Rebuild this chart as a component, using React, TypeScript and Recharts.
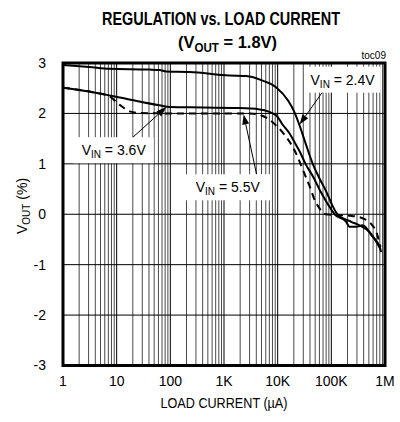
import React from 'react';
import {
  LineChart,
  Line,
  XAxis,
  YAxis,
  CartesianGrid,
  ReferenceLine,
  ReferenceDot,
  ReferenceArea,
} from 'recharts';

// ---- axis ticks ----
const X_TICKS = [1, 10, 100, 1000, 10000, 100000, 1000000];
const X_TICK_LABELS = ['1', '10', '100', '1K', '10K', '100K', '1M'];
const Y_TICKS = [-3, -2, -1, 0, 1, 2, 3];
const DECADES = [1, 10, 100, 1000, 10000, 100000];
const MINOR_STEPS = [2, 3, 4, 5, 6, 7, 8, 9];

// ---- series: VIN = 2.4V ----
const CURRENT_24 = [1, 3.1, 7.4, 41, 63, 84, 229, 1260, 2600, 5250, 9330, 15960, 20600, 25600, 33000, 44700, 60300, 81400, 105000, 130000, 235000, 335000, 513000, 824000];
const VOUT_24 = [2.96, 2.92, 2.885, 2.87, 2.86, 2.83, 2.82, 2.75, 2.74, 2.65, 2.52, 2.24, 2.02, 1.76, 1.41, 1.01, 0.71, 0.44, 0.17, 0.0, -0.15, -0.22, -0.35, -0.69];

// ---- series: VIN = 3.6V ----
const CURRENT_36 = [1, 3.6, 15, 63, 97, 229, 1930, 4600, 9400, 12300, 16700, 20600, 25600, 33000, 46600, 63000, 85000, 115000, 189000, 218000, 291000, 382000, 562000, 794000, 850000];
const VOUT_36 = [2.51, 2.42, 2.29, 2.16, 2.125, 2.12, 2.105, 2.08, 1.96, 1.78, 1.6, 1.43, 1.25, 1.0, 0.73, 0.45, 0.21, 0.0, -0.15, -0.25, -0.25, -0.22, -0.42, -0.65, -0.75];

// ---- series: VIN = 5.5V (dashed) ----
const CURRENT_55 = [1, 3.6, 7, 11.4, 17.5, 27, 100, 3000, 4600, 6460, 10000, 14500, 20600, 25700, 32000, 40000, 49000, 60000, 78000, 228000, 381000, 561000, 695000, 824000];
const VOUT_55 = [2.51, 2.42, 2.35, 2.17, 2.04, 2.01, 2.0, 2.0, 1.97, 1.9, 1.73, 1.53, 1.27, 1.04, 0.79, 0.54, 0.28, 0.12, 0.0, -0.03, -0.08, -0.2, -0.36, -0.65];

// ---- annotations (data units) ----
const LABEL_TEXT = ['2.4V', '3.6V', '5.5V'];
const LABEL_X = [162000, 8.8, 1175];
const LABEL_Y = [2.67, 1.27, 0.535];
const LABEL_W = [76, 80, 86];
const ARROW_FROM_X = [78000, 18.8, 4050];
const ARROW_FROM_Y = [2.51, 1.5, 0.79];
const ARROW_TO_X = [25600, 84, 2320];
const ARROW_TO_Y = [1.78, 2.125, 1.98];

const toRows = (xs: number[], ys: number[]) => xs.map((x, i) => ({ x, y: ys[i] }));
const DATA_24 = toRows(CURRENT_24, VOUT_24);
const DATA_36 = toRows(CURRENT_36, VOUT_36);
const DATA_55 = toRows(CURRENT_55, VOUT_55);

const MINOR_GRID: number[] = [];
DECADES.forEach((d) => MINOR_STEPS.forEach((m) => MINOR_GRID.push(d * m)));

const FONT = "'Liberation Sans', Arial, sans-serif";

const makeLabelShape = (text: string, w: number) => (props: any) => {
  const { cx, cy } = props;
  const h = 26;
  return (
    <g>
      <rect x={cx - w / 2} y={cy - h / 2} width={w} height={h} fill="#fff" />
      <text x={cx} y={cy + 5} textAnchor="middle" fontSize={14} fontFamily={FONT} fill="#000">
        V<tspan fontSize={10} dy={3}>IN</tspan>
        <tspan dy={-3}>{' = ' + text}</tspan>
      </text>
    </g>
  );
};

const arrowShape = (props: any) => {
  const { x1, y1, x2, y2 } = props;
  const a = Math.atan2(y2 - y1, x2 - x1);
  const L = 10;
  const W = 3.5;
  const bx = x2 - L * Math.cos(a);
  const by = y2 - L * Math.sin(a);
  const px = -Math.sin(a) * W;
  const py = Math.cos(a) * W;
  return (
    <g>
      <line x1={x1} y1={y1} x2={bx} y2={by} stroke="#000" strokeWidth={1} />
      <polygon points={`${x2},${y2} ${bx + px},${by + py} ${bx - px},${by - py}`} fill="#000" />
    </g>
  );
};

const xFmt = (v: number) => {
  const i = X_TICKS.indexOf(v);
  return i >= 0 ? X_TICK_LABELS[i] : '';
};

export default function App() {
  return (
    <div style={{ position: 'absolute', left: 0, top: 0, width: 400, height: 422, background: '#fff' }}>
      <LineChart
        width={400}
        height={422}
        margin={{ top: 63, right: 15, bottom: 26.5, left: 33 }}
      >
        <CartesianGrid
          horizontal={false}
          vertical={true}
          verticalValues={MINOR_GRID}
          stroke="#4a4a4a"
          strokeWidth={1}
        />
        <CartesianGrid
          horizontal={true}
          vertical={true}
          verticalValues={X_TICKS}
          horizontalValues={Y_TICKS}
          stroke="#000"
          strokeWidth={1}
        />
        <XAxis
          dataKey="x"
          type="number"
          scale="log"
          domain={[1, 1000000]}
          ticks={X_TICKS}
          tickFormatter={xFmt}
          allowDataOverflow
          axisLine={false}
          tickLine={false}
          tickSize={0}
          tickMargin={11}
          height={30}
          interval={0}
          tick={{ fontSize: 14, fill: '#000', fontFamily: FONT }}
        />
        <YAxis
          type="number"
          domain={[-3, 3]}
          ticks={Y_TICKS}
          allowDataOverflow
          axisLine={false}
          tickLine={false}
          tickSize={0}
          tickMargin={17}
          width={30}
          interval={0}
          tick={{ fontSize: 14, fill: '#000', fontFamily: FONT }}
        />
        <Line data={DATA_24} dataKey="y" type="monotone" stroke="#000" strokeWidth={2} dot={false} isAnimationActive={false} />
        <Line data={DATA_36} dataKey="y" type="monotone" stroke="#000" strokeWidth={2} dot={false} isAnimationActive={false} />
        <Line data={DATA_55} dataKey="y" type="monotone" stroke="#000" strokeWidth={2} strokeDasharray="7 5" dot={false} isAnimationActive={false} />
        {LABEL_TEXT.map((t, i) => (
          <ReferenceDot key={'lb' + i} x={LABEL_X[i]} y={LABEL_Y[i]} r={1} shape={makeLabelShape(t, LABEL_W[i])} />
        ))}
        {LABEL_TEXT.map((t, i) => (
          <ReferenceLine
            key={'ar' + i}
            segment={[
              { x: ARROW_FROM_X[i], y: ARROW_FROM_Y[i] },
              { x: ARROW_TO_X[i], y: ARROW_TO_Y[i] },
            ]}
            shape={arrowShape}
          />
        ))}
        <ReferenceArea x1={1} x2={1000000} y1={-3} y2={3} fill="none" fillOpacity={0} stroke="#000" strokeWidth={3} />
      </LineChart>
      <svg
        width={400}
        height={422}
        style={{ position: 'absolute', left: 0, top: 0, pointerEvents: 'none' }}
      >
        <text x={221} y={25} textAnchor="middle" fontSize={18} fontWeight="bold" fontFamily={FONT} textLength={238} lengthAdjust="spacingAndGlyphs">
          REGULATION vs. LOAD CURRENT
        </text>
        <text x={227.5} y={48} textAnchor="middle" fontSize={17} fontWeight="bold" fontFamily={FONT} textLength={99} lengthAdjust="spacingAndGlyphs">
          (V<tspan fontSize={12} dy={4}>OUT</tspan>
          <tspan dy={-4}> = 1.8V)</tspan>
        </text>
        <text x={386} y={58.5} textAnchor="end" fontSize={10} fontFamily={FONT}>toc09</text>
        <text x={224} y={408} textAnchor="middle" fontSize={14} fontFamily={FONT} textLength={127} lengthAdjust="spacingAndGlyphs">
          LOAD CURRENT (µA)
        </text>
        <text transform="translate(27,206) rotate(-90)" x={0} y={0} textAnchor="middle" fontSize={14} fontFamily={FONT}>
          V<tspan fontSize={10} dy={3}>OUT</tspan>
          <tspan dy={-3}> (%)</tspan>
        </text>
      </svg>
    </div>
  );
}
